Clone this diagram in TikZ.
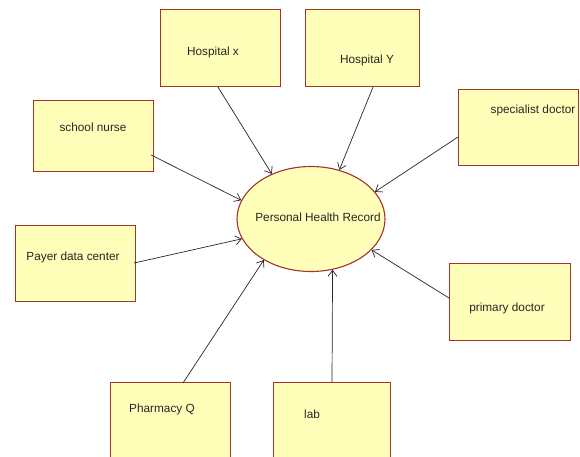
\documentclass[tikz,border=0pt]{standalone}
\usepackage{fontspec}
\setmainfont{Liberation Sans}
\usetikzlibrary{arrows.meta,calc,shapes.geometric}
\definecolor{boxfill}{RGB}{255,255,185}
\definecolor{boxline}{RGB}{165,50,45}
\tikzset{
  box/.style={draw=boxline,fill=boxfill,line width=1.1pt,rectangle,inner sep=0pt,anchor=north west},
  lbl/.style={font=\fontsize{11.8}{14}\selectfont,inner sep=0pt,text=black!85},
  arr/.style={draw=black!85,line width=0.7pt,-{Straight Barb[length=6pt,width=9pt]}},
}
\begin{document}
\begin{tikzpicture}[x=1pt,y=-1pt]
\useasboundingbox (0,0) rectangle (580,457);
\clip (0,0) rectangle (580,457);
% boxes
\node[box,minimum width=120pt,minimum height=77pt] (hx) at (160,9) {};
\node[box,minimum width=114pt,minimum height=77pt] (hy) at (305,9) {};
\node[box,minimum width=120pt,minimum height=71pt] (sn) at (33,100) {};
\node[box,minimum width=120pt,minimum height=76pt] (pd) at (15,225) {};
\node[box,minimum width=120pt,minimum height=90pt] (ph) at (110,382) {};
\node[box,minimum width=117pt,minimum height=90pt] (lab) at (273,382) {};
\node[box,minimum width=120pt,minimum height=76pt] (sd) at (458,89) {};
\node[box,minimum width=121pt,minimum height=77pt] (pr) at (449,263) {};
% ellipse
\node[ellipse,draw=boxline,fill=boxfill,line width=1.1pt,minimum width=148pt,minimum height=105pt,inner sep=0pt] (phr) at (311,219) {};
% labels
\node[lbl] (thx) at (213,52) {Hospital x};
\node[lbl] (thy) at (367,60) {Hospital Y};
\node[lbl] (tsn) at (93,127) {school nurse};
\node[lbl] (tpd) at (73,257) {Payer data center};
\node[lbl] (tph) at (162,409) {Pharmacy Q};
\node[lbl] (tlab) at (312,414) {lab};
\node[lbl] (tsd) at (533,110) {specialist doctor};
\node[lbl] (tpr) at (507,308) {primary doctor};
\node[lbl] (tphr) at (318,217) {Personal Health Record};
% connectors
\draw[arr] ($(hx.south west)+(58,0)$) -- (phr.131);
\draw[arr] ($(hy.south west)+(68,0)$) -- (phr.60);
\draw[arr] ($(sn.north east)+(-3,55)$) -- (phr.165);
\draw[arr] ($(pd.north east)+(-2,38)$) -- (phr.196);
\draw[arr] ($(ph.north west)+(73,1)$) -- (phr.221);
\draw[arr] ($(lab.north west)+(59,0)$) -- (phr.293);
\draw[arr] ($(sd.north west)+(0,48)$) -- (phr.23);
\draw[arr] ($(pr.north west)+(0,35)$) -- (phr.333);
\end{tikzpicture}
\end{document}
